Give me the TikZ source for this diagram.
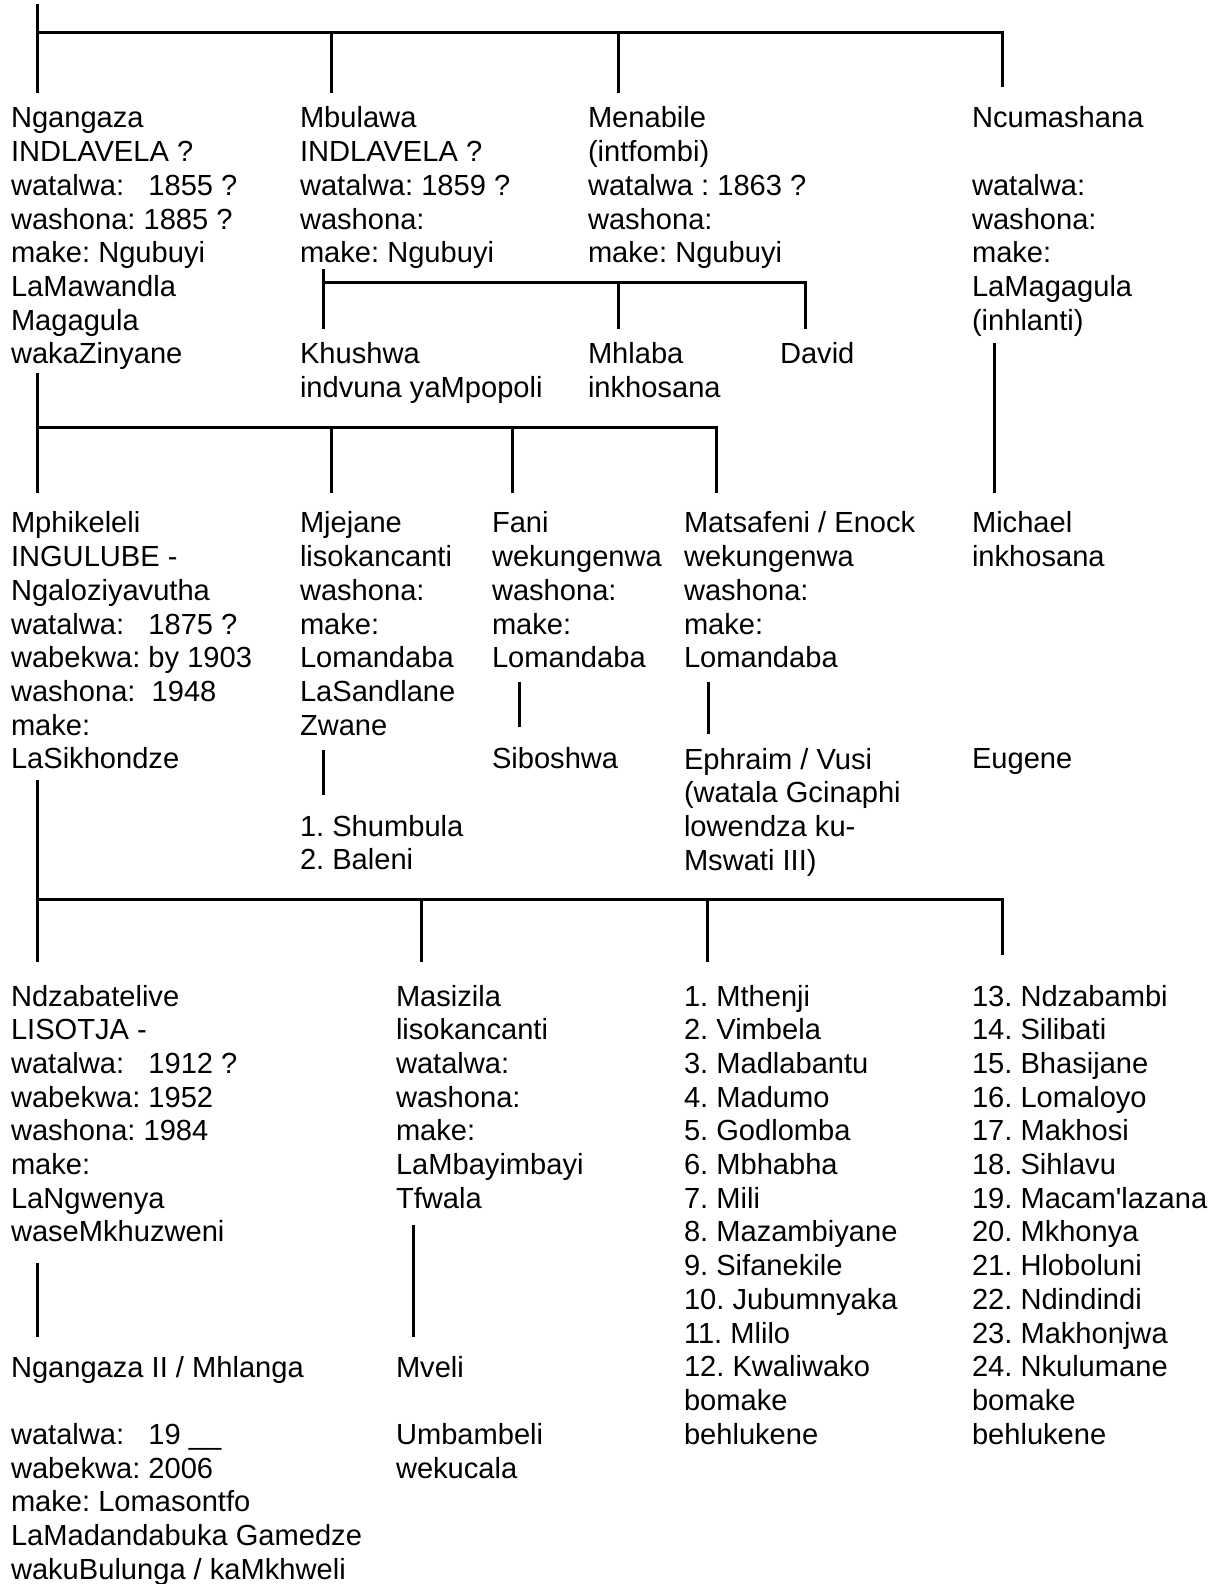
\documentclass[tikz,border=0pt]{standalone}
\usepackage{fontspec}
\setmainfont{Liberation Sans}
\frenchspacing
\begin{document}
\begin{tikzpicture}[x=1pt,y=-1pt,
  person/.style={anchor=north west,inner sep=0pt,outer sep=0pt,align=left,
    font=\fontsize{29.1}{33.7}\selectfont\frenchspacing},
  link/.style={line width=3pt,black}]
\useasboundingbox (0,0) rectangle (1218,1584);
% ---------- row 1 ----------
\node[person] (ngangaza) at (11,104.4) {\strut Ngangaza\\INDLAVELA ?\\watalwa:~~~1855 ?\\washona: 1885 ?\\make: Ngubuyi\\LaMawandla\\Magagula\\wakaZinyane};
\node[person] (mbulawa) at (300,104.4) {\strut Mbulawa\\INDLAVELA ?\\watalwa: 1859 ?\\washona:\\make: Ngubuyi};
\node[person] (menabile) at (588,104.4) {\strut Menabile\\(intfombi)\\watalwa : 1863 ?\\washona:\\make: Ngubuyi};
\node[person] (ncumashana) at (972,104.4) {\strut Ncumashana\\\mbox{}\\watalwa:\\washona:\\make:\\LaMagagula\\(inhlanti)};
% Mbulawa's children
\node[person] (khushwa) at (300,340.4) {\strut Khushwa\\indvuna yaMpopoli};
\node[person] (mhlaba) at (588,340.4) {\strut Mhlaba\\inkhosana};
\node[person] (david) at (780,340.4) {\strut David};
% ---------- row 2 ----------
\node[person] (mphikeleli) at (11,509.4) {\strut Mphikeleli\\INGULUBE -\\Ngaloziyavutha\\watalwa:~~~1875 ?\\wabekwa: by 1903\\washona:~~1948\\make:\\LaSikhondze};
\node[person] (mjejane) at (300,509.4) {\strut Mjejane\\lisokancanti\\washona:\\make:\\Lomandaba\\LaSandlane\\Zwane};
\node[person] (fani) at (492,509.4) {\strut Fani\\wekungenwa\\washona:\\make:\\Lomandaba};
\node[person] (matsafeni) at (684,509.4) {\strut Matsafeni / Enock\\wekungenwa\\washona:\\make:\\Lomandaba};
\node[person] (michael) at (972,509.4) {\strut Michael\\inkhosana};
\node[person] (siboshwa) at (492,745.4) {\strut Siboshwa};
\node[person] (ephraim) at (684,745.4) {\strut Ephraim / Vusi\\(watala Gcinaphi\\lowendza ku-\\Mswati III)};
\node[person] (eugene) at (972,745.4) {\strut Eugene};
\node[person] (shumbula) at (300,812.4) {\strut 1. Shumbula\\2. Baleni};
% ---------- row 3 ----------
\node[person] (ndzabatelive) at (11,982.4) {\strut Ndzabatelive\\LISOTJA -\\watalwa:~~~1912 ?\\wabekwa: 1952\\washona: 1984\\make:\\LaNgwenya\\waseMkhuzweni};
\node[person] (masizila) at (396,982.4) {\strut Masizila\\lisokancanti\\watalwa:\\washona:\\make:\\LaMbayimbayi\\Tfwala};
\node[person] (mthenji) at (684,982.4) {\strut 1. Mthenji\\2. Vimbela\\3. Madlabantu\\4. Madumo\\5. Godlomba\\6. Mbhabha\\7. Mili\\8. Mazambiyane\\9. Sifanekile\\10. Jubumnyaka\\11. Mlilo\\12. Kwaliwako\\bomake\\behlukene};
\node[person] (ndzabambi) at (972,982.4) {\strut 13. Ndzabambi\\14. Silibati\\15. Bhasijane\\16. Lomaloyo\\17. Makhosi\\18. Sihlavu\\19. Macam\textquotesingle lazana\\20. Mkhonya\\21. Hloboluni\\22. Ndindindi\\23. Makhonjwa\\24. Nkulumane\\bomake\\behlukene};
\node[person] (ngangazaII) at (11,1353.4) {\strut Ngangaza II / Mhlanga\\\mbox{}\\watalwa:~~~19 \_\_\\wabekwa: 2006\\make: Lomasontfo\\LaMadandabuka Gamedze\\wakuBulunga / kaMkhweli};
\node[person] (mveli) at (396,1353.4) {\strut Mveli\\\mbox{}\\Umbambeli\\wekucala};
% ---------- connector coordinates ----------
\coordinate (topA) at (37,4);
\coordinate (bar1L) at (37,33);
\coordinate (bar1R) at (1002,33);
\coordinate (t1a) at (37,93);
\coordinate (t1b) at (331,93);
\coordinate (t1bu) at (331,33);
\coordinate (t1c) at (618,93);
\coordinate (t1cu) at (618,33);
\coordinate (t1d) at (1002,87);
% Mbulawa children bar
\coordinate (k0) at (323,269);
\coordinate (kL) at (323,282);
\coordinate (kR) at (805,282);
\coordinate (kl) at (323,329);
\coordinate (kmu) at (618,282);
\coordinate (km) at (618,329);
\coordinate (kr) at (805,329);
% Ncumashana -> Michael
\coordinate (nc1) at (994,343);
\coordinate (nc2) at (994,493);
% Ngangaza children bar
\coordinate (g0) at (37,373);
\coordinate (gL) at (37,427);
\coordinate (gR) at (716,427);
\coordinate (g1) at (37,493);
\coordinate (g2u) at (331,427);
\coordinate (g2) at (331,493);
\coordinate (g3u) at (512,427);
\coordinate (g3) at (512,493);
\coordinate (g4) at (716,493);
% single descents row 2
\coordinate (mj1) at (323,750);
\coordinate (mj2) at (323,795);
\coordinate (fa1) at (519,682);
\coordinate (fa2) at (519,727);
\coordinate (ma1) at (708,682);
\coordinate (ma2) at (708,734);
% Mphikeleli children bar
\coordinate (p0) at (37,780);
\coordinate (pL) at (37,899);
\coordinate (pR) at (1002,899);
\coordinate (p1) at (37,962);
\coordinate (p2u) at (421,899);
\coordinate (p2) at (421,962);
\coordinate (p3u) at (707,899);
\coordinate (p3) at (707,962);
\coordinate (p4) at (1002,955);
% single descents row 3
\coordinate (nd1) at (37,1263);
\coordinate (nd2) at (37,1337);
\coordinate (ms1) at (413,1225);
\coordinate (ms2) at (413,1337);
% ---------- connectors ----------
\draw[link] (topA) -- (t1a);
\draw[link] (bar1L) -- (bar1R) -- (t1d);
\draw[link] (t1bu) -- (t1b);
\draw[link] (t1cu) -- (t1c);
\draw[link] (k0) -- (kl);
\draw[link] (kL) -- (kR) -- (kr);
\draw[link] (kmu) -- (km);
\draw[link] (nc1) -- (nc2);
\draw[link] (g0) -- (g1);
\draw[link] (gL) -- (gR) -- (g4);
\draw[link] (g2u) -- (g2);
\draw[link] (g3u) -- (g3);
\draw[link] (mj1) -- (mj2);
\draw[link] (fa1) -- (fa2);
\draw[link] (ma1) -- (ma2);
\draw[link] (p0) -- (p1);
\draw[link] (pL) -- (pR) -- (p4);
\draw[link] (p2u) -- (p2);
\draw[link] (p3u) -- (p3);
\draw[link] (nd1) -- (nd2);
\draw[link] (ms1) -- (ms2);
\end{tikzpicture}
\end{document}
